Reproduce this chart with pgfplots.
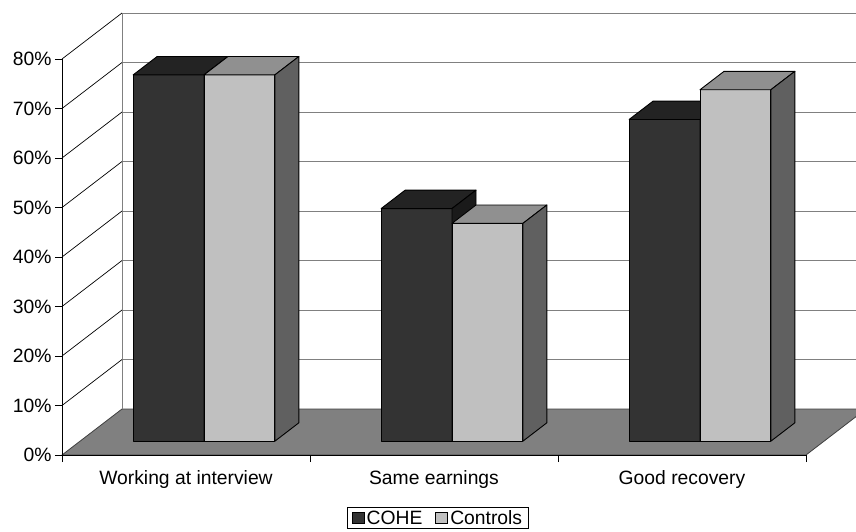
\documentclass[border=0pt]{standalone}
\usepackage{pgfplots}
\pgfplotsset{compat=1.18}
\usepackage{fontspec}
\setmainfont{Liberation Sans}

\definecolor{coheFront}{HTML}{333333}
\definecolor{coheTop}{HTML}{232323}
\definecolor{coheSide}{HTML}{1A1A1A}
\definecolor{ctrlFront}{HTML}{C0C0C0}
\definecolor{ctrlTop}{HTML}{909090}
\definecolor{ctrlSide}{HTML}{606060}
\definecolor{floorGray}{HTML}{808080}
\definecolor{wallLine}{HTML}{808080}

% One 3-D column standing on the floor between depths 0.3 and 0.7:
% #1 left x, #2 right x, #3 value (%), #4 front, #5 top, #6 side colour
\newcommand{\drawcolumn}[6]{%
  \addplot3[fill=#4, draw=black, line width=0.9pt, line join=round]
    coordinates {(#1,0.3,0) (#2,0.3,0) (#2,0.3,#3) (#1,0.3,#3)} -- cycle;
  \addplot3[fill=#5, draw=black, line width=0.9pt, line join=round]
    coordinates {(#1,0.3,#3) (#2,0.3,#3) (#2,0.7,#3) (#1,0.7,#3)} -- cycle;
  \addplot3[fill=#6, draw=black, line width=0.9pt, line join=round]
    coordinates {(#2,0.3,0) (#2,0.7,0) (#2,0.7,#3) (#2,0.3,#3)} -- cycle;
}

\newcommand{\labelfont}{\fontsize{19.3}{22}\selectfont}

\begin{document}
\begin{tikzpicture}
\useasboundingbox (0,0) rectangle (856pt,531pt);
\clip (0,0) rectangle (856pt,531pt);

% the 3-D scene: floor, walls and columns
\begin{axis}[
  at={(186pt,76pt)}, anchor=origin,
  x={(248pt,0pt)}, y={(60pt,46pt)}, z={(0pt,4.95pt)},
  xmin=-0.5, xmax=2.5, ymin=0, ymax=1, zmin=0, zmax=80,
  hide axis, clip=false,
]
  % floor
  \addplot3[fill=floorGray, draw=black!75, line width=0.8pt]
    coordinates {(-0.5,0,0) (2.5,0,0) (2.5,1,0) (-0.5,1,0)} -- cycle;
  % back wall edge and grid lines, side wall grid lines
  \addplot3[draw=wallLine, line width=1pt] coordinates {(-0.5,1,0) (-0.5,1,80)};
  \pgfplotsinvokeforeach{10,20,30,40,50,60,70,80}{
    \addplot3[draw=wallLine, line width=1pt] coordinates {(-0.5,1,#1) (2.6,1,#1)};
    \addplot3[draw=black, line width=0.7pt] coordinates {(-0.5,0,#1) (-0.5,1,#1)};
  }
  % Working at interview
  \drawcolumn{-0.2857}{0}{74}{coheFront}{coheTop}{coheSide}
  \drawcolumn{0}{0.2857}{74}{ctrlFront}{ctrlTop}{ctrlSide}
  % Same earnings
  \drawcolumn{0.7143}{1}{47}{coheFront}{coheTop}{coheSide}
  \drawcolumn{1}{1.2857}{44}{ctrlFront}{ctrlTop}{ctrlSide}
  % Good recovery
  \drawcolumn{1.7143}{2}{65}{coheFront}{coheTop}{coheSide}
  \drawcolumn{2}{2.2857}{71}{ctrlFront}{ctrlTop}{ctrlSide}
\end{axis}

% the front plane: value axis, category axis and legend
\begin{axis}[
  at={(186pt,76pt)}, anchor=origin,
  x=248pt, y=4.95pt,
  xmin=-0.5, xmax=2.5, ymin=0, ymax=80,
  axis lines=left, axis line style={-, black, line width=0.8pt},
  tick align=outside, major tick length=7pt,
  tick style={black, line width=0.8pt},
  xtick={-0.5,0.5,1.5,2.5}, xticklabels={,,,},
  extra x ticks={0,1,2},
  extra x tick labels={Working at interview, Same earnings, Good recovery},
  extra x tick style={major tick length=0pt,
    xticklabel style={yshift=-12pt}},
  ytick={0,10,20,30,40,50,60,70,80},
  yticklabels={0\%,10\%,20\%,30\%,40\%,50\%,60\%,70\%,80\%},
  tick label style={font=\labelfont},
  legend columns=2,
  legend style={at={(0.5,0)}, anchor=north, yshift=-52pt, xshift=4pt,
    draw=black, line width=0.8pt, font=\labelfont,
    inner xsep=4pt, inner ysep=1pt,
    /tikz/every even column/.append style={column sep=11pt}},
  legend image code/.code={%
    \draw[#1, draw=black, line width=0.8pt] (0pt,-5.5pt) rectangle (12pt,5.5pt);},
]
  \addlegendimage{fill=coheFront}
  \addlegendentry{COHE}
  \addlegendimage{fill=ctrlFront}
  \addlegendentry{Controls}
\end{axis}
\end{tikzpicture}
\end{document}
